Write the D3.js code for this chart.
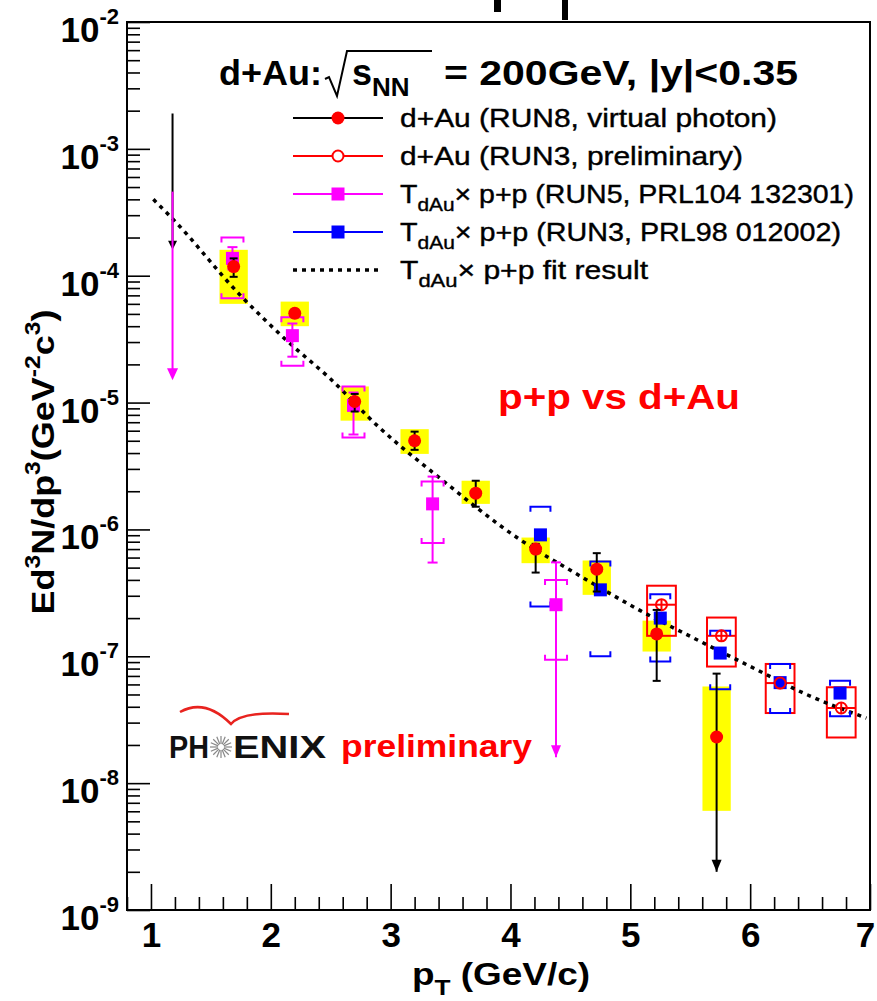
<!DOCTYPE html>
<html><head><meta charset="utf-8">
<script src="https://cdn.jsdelivr.net/npm/d3@7"></script>
<style>
body{margin:0;background:#fff}
svg{display:block}
text{font-family:"Liberation Sans",Arial,Helvetica,sans-serif}
</style>
</head><body>
<svg id="chart" width="877" height="1001"></svg>
<script>
// ---------------- data ----------------
// d+Au RUN8 (virtual photon): red filled circles, black stat bars, yellow syst boxes
const run8PT      = [1.69, 2.2, 2.7, 3.2, 3.71, 4.21, 4.72, 5.22, 5.72];
const run8Val     = [1.18e-4, 5.06e-5, 1.02e-5, 5.0e-6, 1.93e-6, 7.0e-7, 4.86e-7, 1.5e-7, 2.31e-8];
const run8StatLo  = [9.8e-5, 4.7e-5, 8.5e-6, 4.24e-6, 1.51e-6, 4.57e-7, 3.24e-7, 6.4e-8, 2.0e-9];
const run8StatHi  = [1.37e-4, 5.4e-5, 1.17e-5, 5.9e-6, 2.42e-6, 7.7e-7, 6.5e-7, 2.32e-7, 7.3e-8];
const run8LoArrow = [false, false, false, false, false, false, false, false, true];
const run8SysLo   = [6.0e-5, 4.0e-5, 7.2e-6, 3.94e-6, 1.59e-6, 5.42e-7, 3.05e-7, 1.09e-7, 6.05e-9];
const run8SysHi   = [1.6e-4, 6.25e-5, 1.34e-5, 6.17e-6, 2.42e-6, 8.63e-7, 5.69e-7, 1.91e-7, 5.78e-8];
// d+Au RUN8 upper limit (arrow)
const run8LimPT   = [1.18];
const run8LimTop  = [1.9e-3];
const run8LimTip  = [1.6e-4];

// d+Au RUN3 preliminary: red open circles, red open syst boxes
const run3dAuPT     = [5.26, 5.76, 6.25, 6.76];
const run3dAuVal    = [2.55e-7, 1.45e-7, 6.15e-8, 3.91e-8];
const run3dAuStatLo = [2.3e-7, 1.31e-7, 5.5e-8, 3.5e-8];
const run3dAuStatHi = [2.82e-7, 1.6e-7, 6.9e-8, 4.35e-8];
const run3dAuSysLo  = [1.45e-7, 8.3e-8, 3.57e-8, 2.29e-8];
const run3dAuSysHi  = [3.6e-7, 2.02e-7, 8.7e-8, 5.7e-8];

// T_dAu x p+p RUN5 (PRL104 132301): magenta squares
const run5PT      = [1.68, 2.18, 2.69, 3.35, 4.38];
const run5Val     = [1.37e-4, 3.37e-5, 9.5e-6, 1.59e-6, 2.55e-7];
const run5StatLo  = [1.12e-4, 2.3e-5, 5.6e-6, 5.48e-7, 1.6e-8];
const run5StatHi  = [1.68e-4, 4.2e-5, 1.2e-5, 2.61e-6, 5.5e-7];
const run5LoArrow = [false, false, false, false, true];
const run5SysLo   = [6.65e-5, 1.95e-5, 5.3e-6, 7.8e-7, 9.4e-8];
const run5SysHi   = [2.0e-4, 4.7e-5, 1.34e-5, 2.39e-6, 4.0e-7];
const run5LimPT   = [1.18];
const run5LimTop  = [4.6e-4];
const run5LimTip  = [1.5e-5];

// T_dAu x p+p RUN3 (PRL98 012002): blue squares
const run3ppPT    = [4.25, 4.75, 5.25, 5.75, 6.25, 6.75];
const run3ppVal   = [9.06e-7, 3.34e-7, 2.0e-7, 1.06e-7, 6.2e-8, 5.13e-8];
const run3ppSysLo = [2.47e-7, 1.0e-7, 9.1e-8, 5.5e-8, 3.57e-8, 3.36e-8];
const run3ppSysHi = [1.51e-6, 5.58e-7, 3.09e-7, 1.59e-7, 8.7e-8, 6.4e-8];

// T_dAu x p+p fit result (dotted curve)
const fitPT  = [1.02, 1.19, 1.74, 2.13, 2.49, 2.91, 3.41, 4.08, 4.58, 5.08, 5.53, 6.06, 6.47, 6.97];
const fitVal = [4.0e-4, 2.75e-4, 7.1e-5, 3.1e-5, 1.56e-5, 6.3e-6, 2.54e-6, 8.3e-7, 4.3e-7, 2.3e-7, 1.39e-7, 7.8e-8, 5.0e-8, 3.26e-8];

// axes
const xMajorTicks = [1, 2, 3, 4, 5, 6, 7];
const yDecades    = [-9, -8, -7, -6, -5, -4, -3, -2];

const legendLabels = [
  "d+Au (RUN8, virtual photon)",
  "d+Au (RUN3, preliminary)",
  "(RUN5, PRL104 132301)",
  "(RUN3, PRL98 012002)",
  "fit result"
];

// ---------------- layout ----------------
const svg = d3.select("#chart");
const L = 127, R = 870, T = 22, B = 910;
const x = d3.scaleLinear().domain([0.8, 7]).range([L, R]);
const y = d3.scaleLog().domain([1e-9, 1e-2]).range([B, T]);

svg.append("rect").attr("width", 877).attr("height", 1001).attr("fill", "#fff");

// slide artefacts at top
svg.append("rect").attr("x", 494).attr("y", 0).attr("width", 7).attr("height", 12).attr("fill", "#000");
svg.append("rect").attr("x", 562).attr("y", 0).attr("width", 6).attr("height", 20).attr("fill", "#000");

// ticks via axes
const xMinor = d3.range(8, 71, 2).map(v => v / 10).filter(v => !xMajorTicks.includes(v));
const gx = svg.append("g").attr("transform", `translate(0,${B})`);
gx.call(d3.axisBottom(x).tickValues(xMajorTicks).tickSizeInner(-26).tickSizeOuter(0).tickPadding(12).tickFormat(d3.format("d")));
const gxm = svg.append("g").attr("transform", `translate(0,${B})`);
gxm.call(d3.axisBottom(x).tickValues(xMinor).tickSizeInner(-13).tickSizeOuter(0).tickFormat(""));
[gx, gxm].forEach(g => { g.select(".domain").remove(); g.selectAll("line").attr("stroke", "#000").attr("stroke-width", 1.6); });
gx.selectAll("text").attr("font-size", 35).attr("font-weight", "bold").attr("fill", "#000")
  .attr("font-family", '"Liberation Sans",Arial,sans-serif')
  .attr("dx", d => d === 7 ? -5 : 0);

const yMajor = yDecades.map(e => Math.pow(10, e));
const yMinor = [];
yDecades.slice(0, -1).forEach(e => { for (let k = 2; k <= 9; k++) yMinor.push(k * Math.pow(10, e)); });
const gy = svg.append("g").attr("transform", `translate(${L},0)`);
gy.call(d3.axisLeft(y).tickValues(yMajor).tickSizeInner(-23).tickSizeOuter(0).tickFormat(""));
const gym = svg.append("g").attr("transform", `translate(${L},0)`);
gym.call(d3.axisLeft(y).tickValues(yMinor).tickSizeInner(-13).tickSizeOuter(0).tickFormat(""));
[gy, gym].forEach(g => { g.select(".domain").remove(); g.selectAll("line").attr("stroke", "#000").attr("stroke-width", 1.6); });

// y tick labels 10^n
yDecades.forEach(e => {
  const t = svg.append("text").attr("x", 119).attr("y", y(Math.pow(10, e)) + 20)
    .attr("text-anchor", "end").attr("font-weight", "bold").attr("font-size", 35).attr("fill", "#000");
  t.append("tspan").text("10");
  t.append("tspan").attr("dy", -18).attr("font-size", 22).text("-" + (-e));
});

// frame
svg.append("rect").attr("x", L).attr("y", T).attr("width", R - L).attr("height", B - T)
  .attr("fill", "none").attr("stroke", "#000").attr("stroke-width", 2);

// axis titles
const xt = svg.append("text").attr("x", 501).attr("y", 985).attr("text-anchor", "middle")
  .attr("font-weight", "bold").attr("font-size", 31).attr("fill", "#000")
  .attr("textLength", 178).attr("lengthAdjust", "spacingAndGlyphs");
xt.append("tspan").text("p");
xt.append("tspan").attr("dy", 10).attr("font-size", 22).text("T");
xt.append("tspan").attr("dy", -10).text(" (GeV/c)");

const yt = svg.append("text").attr("transform", "translate(54,462) rotate(-90)").attr("text-anchor", "middle")
  .attr("font-weight", "bold").attr("font-size", 32).attr("fill", "#000")
  .attr("textLength", 305).attr("lengthAdjust", "spacingAndGlyphs");
yt.append("tspan").text("Ed");
yt.append("tspan").attr("dy", -14).attr("font-size", 22).text("3");
yt.append("tspan").attr("dy", 14).text("N/dp");
yt.append("tspan").attr("dy", -14).attr("font-size", 22).text("3");
yt.append("tspan").attr("dy", 14).text("(GeV");
yt.append("tspan").attr("dy", -14).attr("font-size", 22).text("-2");
yt.append("tspan").attr("dy", 14).text("c");
yt.append("tspan").attr("dy", -14).attr("font-size", 22).text("3");
yt.append("tspan").attr("dy", 14).text(")");

// ---------------- data drawing ----------------
const plot = svg.append("g");
const sysHalf = 0.118;    // pT half width of syst boxes
const run3BoxHalf = 0.12;

// yellow syst boxes
plot.selectAll(".ybox").data(run8PT).join("rect")
  .attr("x", (d) => x(d - sysHalf)).attr("width", (d) => x(d + sysHalf) - x(d - sysHalf))
  .attr("y", (d, i) => y(run8SysHi[i])).attr("height", (d, i) => y(run8SysLo[i]) - y(run8SysHi[i]))
  .attr("fill", "#ffff00");

// red open syst boxes (RUN3 d+Au)
plot.selectAll(".rbox").data(run3dAuPT).join("rect")
  .attr("x", d => x(d - run3BoxHalf)).attr("width", d => x(d + run3BoxHalf) - x(d - run3BoxHalf))
  .attr("y", (d, i) => y(run3dAuSysHi[i])).attr("height", (d, i) => y(run3dAuSysLo[i]) - y(run3dAuSysHi[i]))
  .attr("fill", "none").attr("stroke", "#ff0000").attr("stroke-width", 2);
plot.selectAll(".rmid").data(run3dAuPT).join("line")
  .attr("x1", d => x(d - run3BoxHalf)).attr("x2", d => x(d + run3BoxHalf))
  .attr("y1", (d, i) => y(run3dAuVal[i])).attr("y2", (d, i) => y(run3dAuVal[i]))
  .attr("stroke", "#ff0000").attr("stroke-width", 2);

// fit curve
const fitLine = d3.line().x((d, i) => x(fitPT[i])).y((d) => y(d)).curve(d3.curveMonotoneX);
plot.append("path").attr("d", fitLine(fitVal)).attr("fill", "none").attr("stroke", "#000")
  .attr("stroke-width", 3.5).attr("stroke-dasharray", "4,5");

// helpers
function bracket(g, px, py, dir, color, half) {
  const tip = 5 * dir;
  g.append("path").attr("d", `M${px - half},${py + tip}V${py}H${px + half}V${py + tip}`)
    .attr("fill", "none").attr("stroke", color).attr("stroke-width", 2);
}
function arrowHead(g, px, py, color, w, h) {
  g.append("path").attr("d", `M${px - w / 2},${py - h}L${px + w / 2},${py - h}L${px},${py}Z`).attr("fill", color);
}
function errBar(g, px, lo, hi, color, capW, loArrow, width) {
  g.append("line").attr("x1", px).attr("x2", px).attr("y1", lo).attr("y2", hi)
    .attr("stroke", color).attr("stroke-width", width);
  g.append("line").attr("x1", px - capW / 2).attr("x2", px + capW / 2).attr("y1", hi).attr("y2", hi)
    .attr("stroke", color).attr("stroke-width", width);
  if (loArrow) arrowHead(g, px, lo, color, 10, 12);
  else g.append("line").attr("x1", px - capW / 2).attr("x2", px + capW / 2).attr("y1", lo).attr("y2", lo)
    .attr("stroke", color).attr("stroke-width", width);
}

// magenta brackets + error bars
run5PT.forEach((p, i) => {
  bracket(plot, x(p), y(run5SysHi[i]), 1, "#ff00ff", 11);
  bracket(plot, x(p), y(run5SysLo[i]), -1, "#ff00ff", 11);
  errBar(plot, x(p), y(run5StatLo[i]), y(run5StatHi[i]), "#ff00ff", 10, run5LoArrow[i], 2);
});
// blue brackets
run3ppPT.forEach((p, i) => {
  bracket(plot, x(p), y(run3ppSysHi[i]), 1, "#0000ff", 10);
  bracket(plot, x(p), y(run3ppSysLo[i]), -1, "#0000ff", 10);
});
// upper limits
run8LimPT.forEach((p, i) => {
  plot.append("line").attr("x1", x(p)).attr("x2", x(p)).attr("y1", y(run8LimTop[i])).attr("y2", y(run8LimTip[i]) - 6)
    .attr("stroke", "#000").attr("stroke-width", 2);
  arrowHead(plot, x(p), y(run8LimTip[i]), "#000", 9, 9);
});
run5LimPT.forEach((p, i) => {
  plot.append("line").attr("x1", x(p)).attr("x2", x(p)).attr("y1", y(run5LimTop[i])).attr("y2", y(run5LimTip[i]) - 6)
    .attr("stroke", "#ff00ff").attr("stroke-width", 2);
  arrowHead(plot, x(p), y(run5LimTip[i]), "#ff00ff", 11, 12);
});
// red RUN3 stat errors
run3dAuPT.forEach((p, i) => {
  plot.append("line").attr("x1", x(p)).attr("x2", x(p)).attr("y1", y(run3dAuStatLo[i])).attr("y2", y(run3dAuStatHi[i]))
    .attr("stroke", "#ff0000").attr("stroke-width", 2);
});

// markers
const sq = 13;
plot.selectAll(".msq").data(run5PT).join("rect")
  .attr("x", d => x(d) - sq / 2).attr("y", (d, i) => y(run5Val[i]) - sq / 2)
  .attr("width", sq).attr("height", sq).attr("fill", "#ff00ff");
plot.selectAll(".bsq").data(run3ppPT).join("rect")
  .attr("x", d => x(d) - sq / 2).attr("y", (d, i) => y(run3ppVal[i]) - sq / 2)
  .attr("width", sq).attr("height", sq).attr("fill", "#0000ff");
plot.selectAll(".roc").data(run3dAuPT).join("circle")
  .attr("cx", d => x(d)).attr("cy", (d, i) => y(run3dAuVal[i])).attr("r", 5.5)
  .attr("fill", "none").attr("stroke", "#ff0000").attr("stroke-width", 2);
run8PT.forEach((p, i) => {
  errBar(plot, x(p), y(run8StatLo[i]), y(run8StatHi[i]), "#000", 8, run8LoArrow[i], 2);
});
plot.selectAll(".rfc").data(run8PT).join("circle")
  .attr("cx", d => x(d)).attr("cy", (d, i) => y(run8Val[i])).attr("r", 6.5)
  .attr("fill", "#ff0000");

// ---------------- title & legend ----------------
svg.append("text").attr("x", 219).attr("y", 85).attr("font-weight", "bold").attr("font-size", 35)
  .attr("textLength", 103).attr("lengthAdjust", "spacingAndGlyphs").attr("fill", "#000").text("d+Au:");
svg.append("path").attr("d", "M325,79 L329,77 L337,96 L347,51 L432,51").attr("fill", "none")
  .attr("stroke", "#000").attr("stroke-width", 2);
const sN = svg.append("text").attr("x", 352).attr("y", 85).attr("font-weight", "bold").attr("font-size", 36).attr("fill", "#000");
sN.append("tspan").text("s");
sN.append("tspan").attr("dy", 11).attr("font-size", 26).text("NN");
svg.append("text").attr("x", 444).attr("y", 85).attr("font-weight", "bold").attr("font-size", 35)
  .attr("textLength", 354).attr("lengthAdjust", "spacingAndGlyphs").attr("fill", "#000").text("= 200GeV, |y|<0.35");

const legRowY = [118, 156, 194, 232, 270];
const legLen  = [377, 343, 454, 441, 248];
const legColors = ["#000", "#ff0000", "#ff00ff", "#0000ff", "#000"];
legRowY.forEach((ry, i) => {
  const line = svg.append("line").attr("x1", 293).attr("x2", 383).attr("y1", ry).attr("y2", ry)
    .attr("stroke", legColors[i]).attr("stroke-width", i === 4 ? 3.5 : 2);
  if (i === 4) line.attr("stroke-dasharray", "4,5");
  if (i === 0) svg.append("circle").attr("cx", 338).attr("cy", ry).attr("r", 6.5).attr("fill", "#ff0000");
  if (i === 1) svg.append("circle").attr("cx", 338).attr("cy", ry).attr("r", 5.5).attr("fill", "#fff").attr("stroke", "#ff0000").attr("stroke-width", 2);
  if (i === 2 || i === 3) svg.append("rect").attr("x", 338 - sq / 2).attr("y", ry - sq / 2).attr("width", sq).attr("height", sq).attr("fill", legColors[i]);
  const t = svg.append("text").attr("x", 400).attr("y", ry + 9).attr("font-size", 26).attr("fill", "#000")
    .attr("textLength", legLen[i]).attr("lengthAdjust", "spacingAndGlyphs")
    .attr("stroke", "#000").attr("stroke-width", 0.4);
  if (i < 2) t.text(legendLabels[i]);
  else {
    t.append("tspan").text("T");
    t.append("tspan").attr("dy", 8).attr("font-size", 19).text("dAu");
    t.append("tspan").attr("dy", -8).text("\u00d7 p+p " + legendLabels[i]);
  }
});

// p+p vs d+Au
svg.append("text").attr("x", 498).attr("y", 409).attr("font-family", "Lato, 'Open Sans', sans-serif")
  .attr("font-weight", "bold").attr("font-size", 35).attr("fill", "#ff0000")
  .attr("textLength", 242).attr("lengthAdjust", "spacingAndGlyphs").text("p+p vs d+Au");

// PHENIX preliminary logo
svg.append("path").attr("d", "M180,712 Q205,698 231,724 Q242,711 289,714").attr("fill", "none")
  .attr("stroke", "#e8231f").attr("stroke-width", 2.5);
svg.append("text").attr("x", 169).attr("y", 758).attr("font-weight", "bold").attr("font-size", 31)
  .attr("textLength", 40).attr("lengthAdjust", "spacingAndGlyphs").attr("fill", "#111").text("PH");
svg.append("text").attr("x", 233).attr("y", 758).attr("font-weight", "bold").attr("font-size", 31)
  .attr("textLength", 93).attr("lengthAdjust", "spacingAndGlyphs").attr("fill", "#111").text("ENIX");
const star = svg.append("g").attr("transform", "translate(221,747)");
d3.range(16).forEach(k => {
  const a = k * Math.PI / 8;
  star.append("line").attr("x1", 3 * Math.cos(a)).attr("y1", 3 * Math.sin(a))
    .attr("x2", 11 * Math.cos(a)).attr("y2", 11 * Math.sin(a)).attr("stroke", "#888").attr("stroke-width", 1.2);
});
svg.append("text").attr("x", 341).attr("y", 757).attr("font-weight", "bold").attr("font-size", 31)
  .attr("textLength", 191).attr("lengthAdjust", "spacingAndGlyphs").attr("fill", "#ff0000").text("preliminary");
</script>
</body></html>
